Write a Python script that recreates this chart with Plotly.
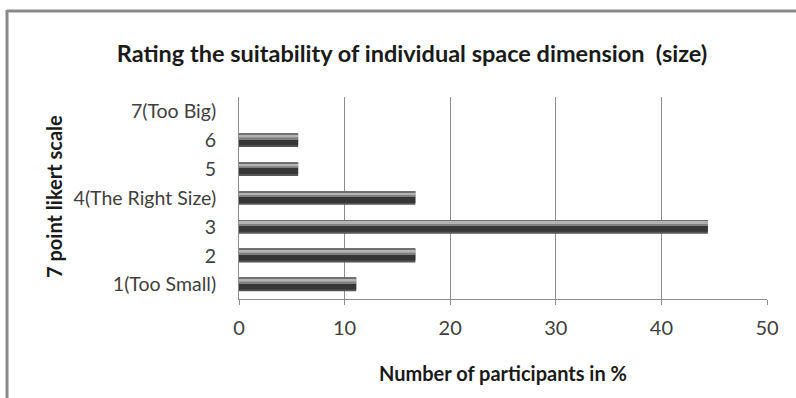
import plotly.graph_objects as go

categories = ["1(Too Small)", "2", "3", "4(The Right Size)", "5", "6", "7(Too Big)"]
values = [11.1, 16.7, 44.4, 16.7, 5.6, 5.6, 0]
x_ticks = [0, 10, 20, 30, 40, 50]

title_text = "Rating the suitability of individual space dimension  (size)"
x_title = "Number of participants in %"
y_title = "7 point likert scale"

FONT = "Lato"

# layered bands to imitate the cylinder shading: (offset from centre, width, colour)
bands = [
    (-0.235, 0.47, "#555555"),
    (-0.17, 0.21, "#363636"),
    (0.04, 0.06, "#808080"),
    (0.10, 0.105, "#b4b4b4"),
    (0.205, 0.03, "#707070"),
]

fig = go.Figure()
for off, w, col in bands:
    fig.add_trace(go.Bar(
        y=categories, x=values, orientation="h",
        width=w, offset=off,
        marker=dict(color=col, line=dict(width=0)),
        hoverinfo="skip", showlegend=False,
    ))

L, R, T, B = 239, 29, 97, 99
W, H = 796, 398
pw, ph = W - L - R, H - T - B

def px_to_paper_x(px):
    return (px - L) / pw

def px_to_paper_y(py):
    return (H - B - py) / ph

fig.update_layout(
    width=W, height=H,
    margin=dict(l=L, r=R, t=T, b=B),
    paper_bgcolor="white", plot_bgcolor="white",
    barmode="overlay",
    font=dict(family=FONT, color="#404040", size=20),
    title=dict(text="<b>" + title_text + "</b>", x=412 / W,
               xanchor="center", y=1 - 54 / H, yanchor="middle",
               font=dict(family=FONT, size=23.5, color="#1a1a1a")),
    xaxis=dict(
        range=[0, 50], tickvals=x_ticks, showgrid=True,
        gridcolor="#8c8c8c", gridwidth=1,
        showline=True, linecolor="#8c8c8c", linewidth=1,
        ticks="outside", ticklen=5, tickcolor="#8c8c8c",
        ticklabelstandoff=6,
        tickfont=dict(family=FONT, size=20, color="#404040"),
        zeroline=False, fixedrange=True,
    ),
    yaxis=dict(
        categoryorder="array", categoryarray=categories,
        showline=True, linecolor="#8c8c8c", linewidth=1,
        showgrid=False, ticks="", ticklabelstandoff=18,
        tickfont=dict(family=FONT, size=19.5, color="#404040"),
        fixedrange=True,
    ),
    shapes=[
        dict(type="line", xref="paper", yref="paper",
             x0=px_to_paper_x(7), x1=px_to_paper_x(800),
             y0=px_to_paper_y(11), y1=px_to_paper_y(11),
             line=dict(color="#8a8a8a", width=3)),
        dict(type="line", xref="paper", yref="paper",
             x0=px_to_paper_x(7), x1=px_to_paper_x(7),
             y0=px_to_paper_y(10), y1=px_to_paper_y(400),
             line=dict(color="#8a8a8a", width=3)),
    ],
    annotations=[
        dict(text="<b>" + x_title + "</b>", xref="paper", yref="paper",
             x=px_to_paper_x(503), y=px_to_paper_y(373),
             xanchor="center", yanchor="middle", showarrow=False,
             font=dict(family=FONT, size=20, color="#1a1a1a")),
        dict(text="<b>" + y_title + "</b>", xref="paper", yref="paper",
             x=px_to_paper_x(54), y=px_to_paper_y(197), textangle=-90,
             xanchor="center", yanchor="middle", showarrow=False,
             font=dict(family=FONT, size=20, color="#1a1a1a")),
    ],
)

fig.write_html("out.html", config={"displayModeBar": False},
               post_script="document.body.style.margin='0';")
